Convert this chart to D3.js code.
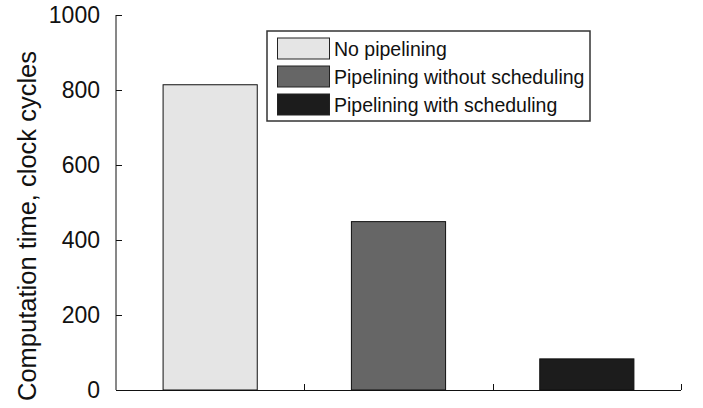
<!DOCTYPE html>
<html>
<head>
<meta charset="utf-8">
<script src="https://cdn.jsdelivr.net/npm/d3@7"></script>
<style>
  html, body { margin: 0; padding: 0; background: #fff; }
  svg { display: block; font-family: "Liberation Sans", Arial, sans-serif; }
</style>
</head>
<body>
<svg id="chart" width="703" height="408"></svg>
<script>
const categories = ["No pipelining", "Pipelining without scheduling", "Pipelining with scheduling"];
const values = [814, 449, 83];
const colors = ["#e5e5e5", "#666666", "#1c1c1c"];
const yTicks = [0, 200, 400, 600, 800, 1000];
const yTitle = "Computation time, clock cycles";

const svg = d3.select("#chart");
const x0 = 116, x1 = 681, yTop = 15, yBot = 390;

const x = d3.scaleBand().domain(categories).range([x0, x1]).paddingInner(0.5).paddingOuter(0.25);
const y = d3.scaleLinear().domain([0, 1000]).range([yBot, yTop]);

// bars
svg.append("g").selectAll("rect").data(categories).join("rect")
  .attr("x", d => x(d))
  .attr("y", (d, i) => y(values[i]))
  .attr("width", x.bandwidth())
  .attr("height", (d, i) => y(0) - y(values[i]))
  .attr("fill", (d, i) => colors[i])
  .attr("stroke", "#111")
  .attr("stroke-width", 1);

// y axis
const yAxis = svg.append("g").attr("transform", `translate(${x0},0)`)
  .call(d3.axisRight(y).tickValues(yTicks).tickSize(6).tickFormat(d3.format("d")));
yAxis.select(".domain").attr("stroke", "#111").attr("d", `M0,${yTop}V${yBot}`);
yAxis.selectAll(".tick line").attr("stroke", "#111");
yAxis.selectAll(".tick text")
  .attr("x", -16).attr("text-anchor", "end")
  .attr("font-size", 23).attr("fill", "#111")
  .attr("font-family", "Liberation Sans, Arial, sans-serif");

// x axis with boundary ticks
const step = x.step();
const boundaries = categories.map((d, i) => x(d) + x.bandwidth() + step * 0.25);
const xAxis = svg.append("g");
xAxis.append("line").attr("x1", x0).attr("x2", x1).attr("y1", yBot + 0.5).attr("y2", yBot + 0.5)
  .attr("stroke", "#111").attr("stroke-width", 1.2);
xAxis.selectAll("line.tk").data(boundaries).join("line").attr("class", "tk")
  .attr("x1", d => Math.round(d) + 0.5).attr("x2", d => Math.round(d) + 0.5)
  .attr("y1", yBot).attr("y2", yBot - 6)
  .attr("stroke", "#111");

// y title
svg.append("text")
  .attr("transform", `translate(36,226) rotate(-90)`)
  .attr("text-anchor", "middle")
  .attr("font-size", 25.5).attr("fill", "#111")
  .text(yTitle);

// legend
const lg = svg.append("g");
lg.append("rect").attr("x", 267).attr("y", 31).attr("width", 323).attr("height", 90)
  .attr("fill", "#fff").attr("stroke", "#333").attr("stroke-width", 1.5);
categories.forEach((c, i) => {
  lg.append("rect").attr("x", 277.5).attr("y", 38 + i * 28).attr("width", 52).attr("height", 21)
    .attr("fill", colors[i]).attr("stroke", "#222").attr("stroke-width", 1);
  lg.append("text").attr("x", 334).attr("y", 55.5 + i * 28)
    .attr("font-size", 19.5).attr("fill", "#111").text(c);
});
</script>
</body>
</html>
